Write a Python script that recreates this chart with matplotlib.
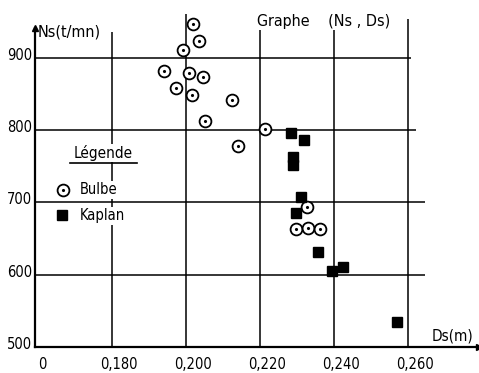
import matplotlib
matplotlib.use("Agg")
from matplotlib import pyplot as plt
from matplotlib.transforms import ScaledTranslation

# values
bulbe_ds = [0.2021, 0.2036, 0.1993, 0.1941, 0.2008, 0.2046, 0.1973, 0.2016,
            0.2126, 0.2053, 0.2141, 0.2215, 0.2328, 0.2298, 0.2330, 0.2363]
bulbe_ns = [946, 923, 911, 882, 879, 873, 858, 848,
            842, 813, 778, 801, 694, 663, 664, 663]
kaplan_ds = [0.2285, 0.2320, 0.2289, 0.2289, 0.2313, 0.2298, 0.2359, 0.2396, 0.2426, 0.2571]
kaplan_ns = [796, 786, 763, 752, 707, 685, 632, 605, 610, 534]

x_ticks = [0.1593, 0.180, 0.200, 0.220, 0.240, 0.260]
x_labels = ["0", "0,180", "0,200", "0,220", "0,240", "0,260"]
y_ticks = [500, 600, 700, 800, 900]
y_labels = ["500", "600", "700", "800", "900"]

# how far each hand-drawn grid line reaches
vline_top = [935, 960, 960, 940, 953]
hline_end = [0.2646, 0.2646, 0.2624, 0.2610]

plt.rcParams["font.family"] = ["DejaVu Sans"]
plt.rcParams["font.stretch"] = "condensed"
fs = 10.5

fig = plt.figure(figsize=(4.79, 3.73), dpi=100)
ax = fig.add_axes([35 / 479, 26 / 373, 444 / 479, 337 / 373])
ax.set_xlim(0.1593, 0.2793)
ax.set_ylim(500, 966)

for s in ["top", "right"]:
    ax.spines[s].set_visible(False)
ax.spines["left"].set_linewidth(1.6)
ax.spines["bottom"].set_linewidth(1.6)
ax.spines["left"].set_bounds(500, 941)

# arrows at the ends of the axes
ax.plot(1, 500, ">k", ms=5, clip_on=False, transform=ax.get_yaxis_transform())
ax.plot(0.1593, 941, "^k", ms=5, clip_on=False)

# grid
for xv, top in zip(x_ticks[1:], vline_top):
    ax.vlines(xv, 500, top, color="black", lw=1.1)
for yv, end in zip(y_ticks[1:], hline_end):
    ax.hlines(yv, 0.1593, end, color="black", lw=1.1)

ax.set_xticks(x_ticks)
ax.set_xticklabels(x_labels, fontsize=fs)
ax.set_yticks(y_ticks)
ax.set_yticklabels(y_labels, fontsize=fs)
ax.tick_params(length=0)
ax.tick_params(axis="x", pad=7)
ax.tick_params(axis="y", pad=2)
for lbl in ax.get_xticklabels():
    lbl.set_transform(lbl.get_transform() + ScaledTranslation(7 / 100, 0, fig.dpi_scale_trans))
for lbl in ax.get_yticklabels():
    lbl.set_transform(lbl.get_transform() + ScaledTranslation(0, 4 / 100, fig.dpi_scale_trans))

# points
ax.plot(bulbe_ds, bulbe_ns, "o", ms=8.5, mfc="white", mec="black", mew=1.3, zorder=3)
ax.plot(bulbe_ds, bulbe_ns, ".", ms=2.5, color="black", zorder=4)
ax.plot(kaplan_ds, kaplan_ns, "s", ms=6.5, color="black", zorder=3)

# texts
bg = dict(facecolor="white", edgecolor="none", pad=1)
ax.text(0.007, 0.935, "Ns(t/mn)", transform=ax.transAxes, fontsize=11.5, va="center")
ax.text(0.50, 0.967, "Graphe    (Ns , Ds)", transform=ax.transAxes, fontsize=11.5,
        va="center", bbox=bg)
ax.text(0.894, 0.033, "Ds(m)", transform=ax.transAxes, fontsize=11, va="center")

ax.text(0.153, 0.576, "Légende", transform=ax.transAxes, fontsize=11,
        ha="center", va="center", bbox=bg)
ax.plot([0.079, 0.230], [0.546, 0.546], color="black", lw=1.2, transform=ax.transAxes)
ax.plot(0.063, 0.466, "o", ms=8.5, mfc="white", mec="black", mew=1.3, transform=ax.transAxes)
ax.plot(0.063, 0.466, ".", ms=2.5, color="black", transform=ax.transAxes)
ax.text(0.101, 0.466, "Bulbe", transform=ax.transAxes, fontsize=fs, va="center", bbox=bg)
ax.plot(0.061, 0.392, "s", ms=6.5, color="black", transform=ax.transAxes)
ax.text(0.101, 0.389, "Kaplan", transform=ax.transAxes, fontsize=fs, va="center", bbox=bg)

fig.savefig("out.png", dpi=100)
